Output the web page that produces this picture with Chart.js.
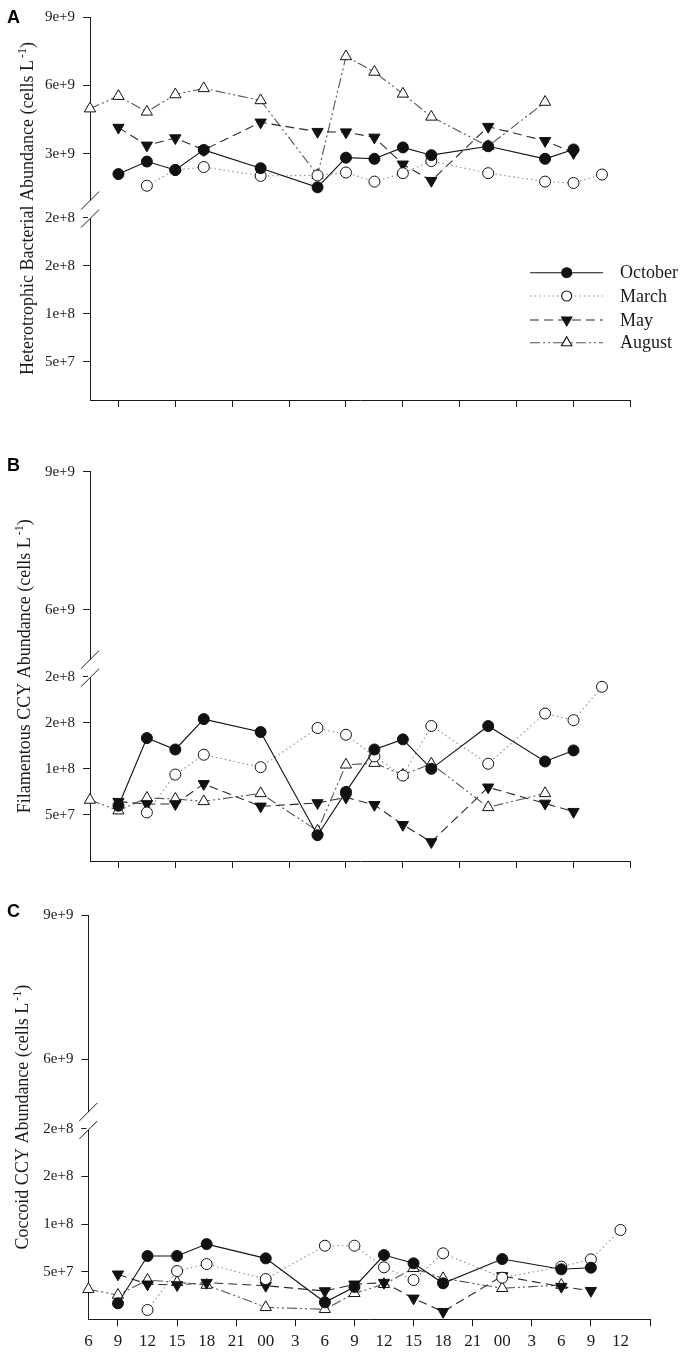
<!DOCTYPE html>
<html>
<head>
<meta charset="utf-8">
<script src="https://cdn.jsdelivr.net/npm/chart.js@4.4.1/dist/chart.umd.min.js"></script>
<style>
html, body { margin: 0; padding: 0; background: #fff; }
#wrap { position: relative; width: 686px; height: 1353px; }
canvas { position: absolute; left: 0; }
</style>
</head>
<body>
<div id="wrap">
<canvas id="pA" width="686" height="430" style="top:0px"></canvas>
<canvas id="pB" width="686" height="460" style="top:430px"></canvas>
<canvas id="pC" width="686" height="463" style="top:890px"></canvas>
</div>
<script>
// sampling times, hours after 06:00 of the first day
const hoursOct = [3, 6, 9, 12, 18, 24, 27, 30, 33, 36, 42, 48, 51];
const hoursMar = [6, 9, 12, 18, 24, 27, 30, 33, 36, 42, 48, 51, 54];
const hoursMay = [3, 6, 9, 12, 18, 24, 27, 30, 33, 36, 42, 48, 51];
const hoursAug = [0, 3, 6, 9, 12, 18, 24, 27, 30, 33, 36, 42, 48];
const hourLabels = ['6', '9', '12', '15', '18', '21', '00', '3', '6', '9', '12', '15', '18', '21', '00', '3', '6', '9', '12'];
const months = ['October', 'March', 'May', 'August'];

// A - heterotrophic bacteria (cells/L)
const bactOct = [2.11e9, 2.66e9, 2.29e9, 3.17e9, 2.37e9, 1.53e9, 2.83e9, 2.78e9, 3.28e9, 2.94e9, 3.33e9, 2.78e9, 3.19e9];
const bactMar = [1.6e9, 2.29e9, 2.42e9, 2.03e9, 2.05e9, 2.18e9, 1.78e9, 2.15e9, 2.68e9, 2.15e9, 1.78e9, 1.72e9, 2.09e9];
const bactMay = [4.15e9, 3.37e9, 3.69e9, 3.17e9, 4.38e9, 3.97e9, 3.95e9, 3.72e9, 2.54e9, 1.82e9, 4.19e9, 3.57e9, 3.04e9];
const bactAug = [4.98e9, 5.53e9, 4.84e9, 5.6e9, 5.87e9, 5.34e9, 2.06e9, 7.27e9, 6.59e9, 5.63e9, 4.62e9, 3.33e9, 5.27e9];

// B - filamentous CCY
const filOct = [6.0e7, 1.334e8, 1.21e8, 1.54e8, 1.40e8, 2.8e7, 7.5e7, 1.21e8, 1.32e8, 1.0e8, 1.465e8, 1.08e8, 1.2e8];
const filMar = [5.27e7, 9.38e7, 1.153e8, 1.018e8, 1.443e8, 1.37e8, 1.135e8, 9.27e7, 1.465e8, 1.055e8, 1.6e8, 1.528e8, 1.89e8];
const filMay = [6.44e7, 6.19e7, 6.19e7, 8.37e7, 5.93e7, 6.3e7, 6.9e7, 6.1e7, 3.93e7, 2.07e7, 8.0e7, 6.25e7, 5.35e7];
const filAug = [6.62e7, 5.46e7, 6.84e7, 6.73e7, 6.47e7, 7.34e7, 3.27e7, 1.044e8, 1.062e8, 9.35e7, 1.055e8, 5.82e7, 7.34e7];

// C - coccoid CCY
const cocOct = [1.68e7, 6.65e7, 6.65e7, 7.9e7, 6.4e7, 1.79e7, 3.4e7, 6.75e7, 5.88e7, 3.78e7, 6.33e7, 5.25e7, 5.42e7];
const cocMar = [9.8e6, 5.07e7, 5.8e7, 4.23e7, 7.73e7, 7.73e7, 5.46e7, 4.13e7, 6.93e7, 4.37e7, 5.53e7, 6.3e7, 9.38e7];
const cocMay = [4.73e7, 3.68e7, 3.6e7, 3.85e7, 3.53e7, 2.97e7, 3.68e7, 3.85e7, 2.2e7, 8e6, 4.55e7, 3.43e7, 3.0e7];
const cocAug = [3.15e7, 2.55e7, 4.13e7, 3.89e7, 3.6e7, 1.26e7, 1.05e7, 2.73e7, 3.68e7, 5.36e7, 4.3e7, 3.26e7, 3.6e7];

// y ticks, above and below the axis break
const upTicksA = [3e9, 6e9, 9e9];
const upLabelsA = ['3e+9', '6e+9', '9e+9'];
const upTicksBC = [6e9, 9e9];
const upLabelsBC = ['6e+9', '9e+9'];
const lowTicks = [5e7, 1e8, 1.5e8, 2e8];
const lowLabels = ['5e+7', '1e+8', '2e+8', '2e+8'];

const hours = [hoursOct, hoursMar, hoursMay, hoursAug];
const serif = '"Liberation Serif", "Times New Roman", serif';
const ink = '#1a1a1a';

const looks = [
	{ line: '#111', dash: [], point: 'circle', fill: '#111', r: 5.5, rot: 0 },
	{ line: '#8c8c8c', dash: [1.5, 3], point: 'circle', fill: '#fff', r: 5.5, rot: 0 },
	{ line: '#2a2a2a', dash: [9, 5], point: 'triangle', fill: '#111', r: 6.5, rot: 180 },
	{ line: '#555', dash: [10, 3, 2, 3, 2, 3], point: 'triangle', fill: '#fff', r: 6.5, rot: 0 }
];

const deco = {
	id: 'deco',
	afterDraw(chart, args, o) {
		const ctx = chart.ctx;
		const ca = chart.chartArea;
		const x0 = ca.left;
		const yb = chart.scales.yUp.bottom;
		ctx.save();

		// axis break
		ctx.fillStyle = '#fff';
		ctx.fillRect(x0 - 2, yb - 17, 4, 18);
		ctx.strokeStyle = ink;
		ctx.lineWidth = 1;
		[yb - 17, yb + 1].forEach(c => {
			ctx.beginPath();
			ctx.moveTo(x0 - 9, c + 9);
			ctx.lineTo(x0 + 9, c - 9);
			ctx.stroke();
		});

		// panel letter
		ctx.fillStyle = '#000';
		ctx.font = 'bold 18px "Liberation Sans", Arial, sans-serif';
		ctx.textAlign = 'left';
		ctx.textBaseline = 'top';
		ctx.fillText(o.letter, 7, o.letterY);

		// y title with superscript
		ctx.save();
		ctx.translate(o.titleX, (ca.top + ca.bottom) / 2);
		ctx.rotate(-Math.PI / 2);
		ctx.textBaseline = 'alphabetic';
		ctx.fillStyle = ink;
		const main = o.title + ' (cells L';
		ctx.font = '18px ' + serif;
		const w1 = ctx.measureText(main).width;
		const w3 = ctx.measureText(')').width;
		ctx.font = '12px ' + serif;
		const w2 = ctx.measureText('-1').width + 2;
		let x = -(w1 + w2 + w3) / 2;
		ctx.font = '18px ' + serif;
		ctx.fillText(main, x, 0);
		x += w1 + 2;
		ctx.font = '12px ' + serif;
		ctx.fillText('-1', x, -7);
		x += w2;
		ctx.font = '18px ' + serif;
		ctx.fillText(')', x - 2, 0);
		ctx.restore();

		// legend
		if (o.legend) {
			const rows = [272.7, 296, 320, 342.7];
			months.forEach((m, i) => {
				const lk = looks[i];
				const y = rows[i];
				ctx.strokeStyle = lk.line;
				ctx.lineWidth = 1.1;
				ctx.setLineDash(lk.dash);
				ctx.beginPath();
				ctx.moveTo(530, y);
				ctx.lineTo(603, y);
				ctx.stroke();
				ctx.setLineDash([]);
				ctx.fillStyle = lk.fill;
				ctx.strokeStyle = '#111';
				Chart.helpers.drawPoint(ctx, { pointStyle: lk.point, rotation: lk.rot, radius: lk.r - 0.5, borderWidth: 1 }, 566.7, y);
				ctx.fillStyle = ink;
				ctx.font = '18px ' + serif;
				ctx.textBaseline = 'middle';
				ctx.fillText(m, 620, y + 1);
			});
		}
		ctx.restore();
	}
};

function makePanel(id, cfg) {
	const datasets = cfg.series.map((vals, i) => {
		const lk = looks[i];
		return {
			label: months[i],
			data: vals.map((v, j) => ({ x: hours[i][j], y: v })),
			yAxisID: cfg.axis,
			borderColor: lk.line,
			borderWidth: 1.1,
			borderDash: lk.dash,
			pointStyle: lk.point,
			pointRotation: lk.rot,
			pointRadius: lk.r,
			pointBackgroundColor: lk.fill,
			pointBorderColor: '#111',
			pointBorderWidth: 1,
			tension: 0,
			clip: false
		};
	});
	const tickFont = { family: serif, size: 15 };
	return new Chart(document.getElementById(id), {
		type: 'line',
		data: { datasets },
		options: {
			responsive: false,
			animation: false,
			layout: { padding: cfg.pad },
			plugins: {
				legend: { display: false },
				tooltip: { enabled: false },
				deco: cfg.deco
			},
			scales: {
				x: {
					type: 'linear',
					min: 0,
					max: 57,
					afterFit: s => { s.height = cfg.xh; },
					border: { color: ink },
					grid: {
						drawOnChartArea: false,
						tickLength: 7,
						tickColor: c => (c.index % 2 ? ink : 'rgba(0,0,0,0)')
					},
					ticks: {
						display: cfg.xLabels,
						stepSize: 3,
						autoSkip: false,
						maxRotation: 0,
						padding: 5,
						color: ink,
						font: { family: serif, size: 17 },
						callback: (v, i) => hourLabels[i] || ''
					}
				},
				// lower segment listed first: the stack is laid out bottom-up here
				yLow: {
					type: 'linear',
					position: 'left',
					stack: 'y',
					stackWeight: cfg.wLow,
					min: cfg.lowMin,
					max: 2e8,
					afterFit: s => { s.width = cfg.yw; },
					afterBuildTicks: s => { s.ticks = lowTicks.map(v => ({ value: v })); },
					border: { color: ink },
					grid: { drawOnChartArea: false, tickLength: 7, color: ink },
					ticks: { color: ink, padding: 8, font: tickFont, callback: (v, i) => lowLabels[i] }
				},
				yUp: {
					type: 'linear',
					position: 'left',
					stack: 'y',
					stackWeight: cfg.wUp,
					min: cfg.upMin,
					max: 9e9,
					afterFit: s => { s.width = cfg.yw; },
					afterBuildTicks: s => { s.ticks = cfg.upTicks.map(v => ({ value: v })); },
					border: { color: ink },
					grid: { drawOnChartArea: false, tickLength: 7, color: ink },
					ticks: { color: ink, padding: 8, font: tickFont, callback: (v, i) => cfg.upLabels[i] }
				}
			}
		},
		plugins: [deco]
	});
}

makePanel('pA', {
	series: [bactOct, bactMar, bactMay, bactAug],
	axis: 'yUp',
	pad: { top: 10, left: 0, right: 55.6, bottom: 0 },
	yw: 90, xh: 30, xLabels: false,
	wUp: 204.3, wLow: 185.7,
	upMin: 2e8, lowMin: 1e7,
	upTicks: upTicksA, upLabels: upLabelsA,
	deco: { letter: 'A', letterY: 9, title: 'Heterotrophic Bacterial Abundance', titleX: 33, legend: true }
});

makePanel('pB', {
	series: [filOct, filMar, filMay, filAug],
	axis: 'yLow',
	pad: { top: 41.7, left: 0, right: 55.6, bottom: 0 },
	yw: 90, xh: 29, xLabels: false,
	wUp: 205, wLow: 184.3,
	upMin: 4.553e9, lowMin: 0,
	upTicks: upTicksBC, upLabels: upLabelsBC,
	deco: { letter: 'B', letterY: 27, title: 'Filamentous CCY Abundance', titleX: 30, legend: false }
});

makePanel('pC', {
	series: [cocOct, cocMar, cocMay, cocAug],
	axis: 'yLow',
	pad: { top: 25, left: 0, right: 36, bottom: 0 },
	yw: 88.4, xh: 33.7, xLabels: true,
	wUp: 213.9, wLow: 190.4,
	upMin: 4.553e9, lowMin: 0,
	upTicks: upTicksBC, upLabels: upLabelsBC,
	deco: { letter: 'C', letterY: 13, title: 'Coccoid CCY Abundance', titleX: 28, legend: false }
});
</script>
</body>
</html>
